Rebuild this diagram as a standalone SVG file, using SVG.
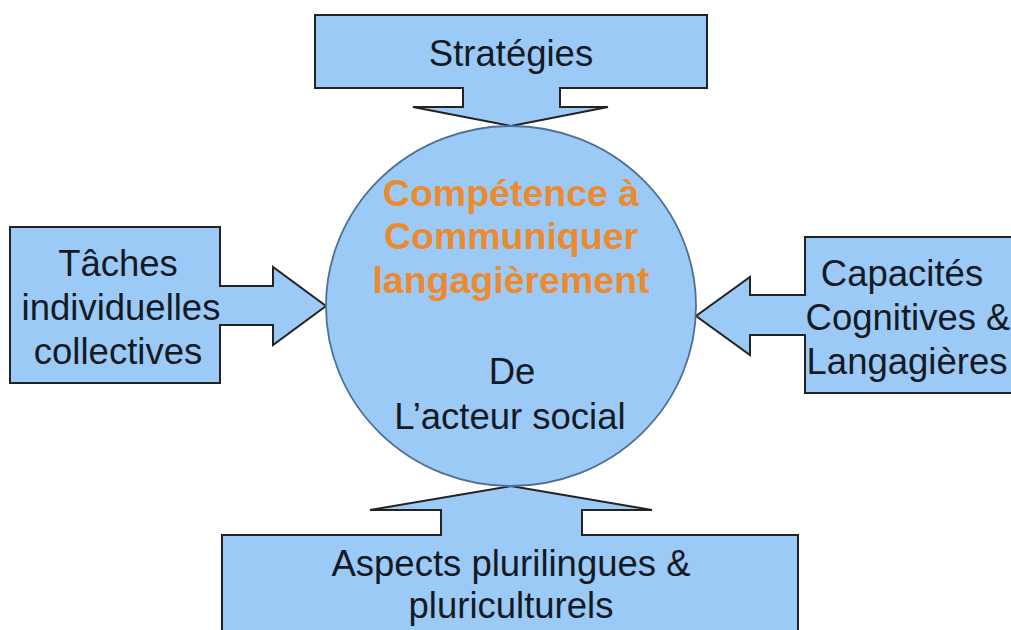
<svg xmlns="http://www.w3.org/2000/svg" width="1011" height="630" viewBox="0 0 1011 630">
<style>
.callout{fill:#9ccaf7;stroke:#222;stroke-width:2;stroke-linejoin:miter}
.hub{fill:#9ccaf7;stroke:#4d6f93;stroke-width:1.8}
.t{font-family:"Liberation Sans",Arial,sans-serif;font-size:36.5px;fill:#141a24;text-anchor:middle}
.o{font-family:"Liberation Sans",Arial,sans-serif;font-size:37.5px;font-weight:bold;fill:#ec8a30;text-anchor:middle}
</style>
<rect width="1011" height="630" fill="#ffffff"/>
<g id="connectors"></g>
<g id="node-strategies">
<polygon class="callout" points="315,15 707,15 707,88 560,88 560,107 608,107 511,126 413,107 463,107 463,88 315,88"/>
<text class="t" x="511" y="66">Stratégies</text>
</g>
<g id="node-taches">
<polygon class="callout" points="10,227 220,227 220,286 273,286 273,267 326,306 273,345 273,325 220,325 220,383 10,383"/>
<text class="t" x="118" y="276">Tâches</text>
<text class="t" x="121" y="320">individuelles</text>
<text class="t" x="118" y="364">collectives</text>
</g>
<g id="node-capacites">
<polygon class="callout" points="1016,237 805,237 805,295 750,295 750,277 696,316 750,355 750,335 805,335 805,393 1016,393"/>
<text class="t" x="902" y="286">Capacités</text>
<text class="t" x="908" y="330">Cognitives &amp;</text>
<text class="t" x="907" y="374">Langagières</text>
</g>
<g id="node-aspects">
<polygon class="callout" points="222,640 222,535 441,535 441,510 370,510 511,486 652,510 582,510 582,535 798,535 798,640"/>
<text class="t" x="511" y="576">Aspects plurilingues &amp;</text>
<text class="t" x="511" y="618">pluriculturels</text>
</g>
<g id="node-competence">
<ellipse class="hub" cx="511" cy="306" rx="185" ry="180"/>
<text class="o" x="511" y="206">Compétence à</text>
<text class="o" x="511" y="249">Communiquer</text>
<text class="o" x="511" y="293">langagièrement</text>
<text class="t" x="512" y="384">De</text>
<text class="t" x="510" y="429">L’acteur social</text>
</g>
</svg>
